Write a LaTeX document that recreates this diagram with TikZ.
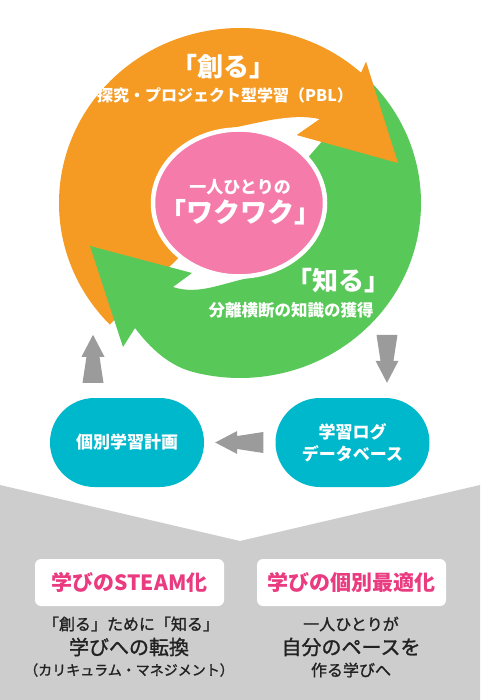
\documentclass[tikz,border=0pt]{standalone}
\usepackage{fontspec}
\setmainfont{Noto Sans CJK JP}
\newfontfamily\jpmed{Noto Sans CJK JP}[FakeBold=1.3]
\usetikzlibrary{calc,shapes.geometric}
\definecolor{corange}{HTML}{F59B23}
\definecolor{cgreen}{HTML}{58C858}
\definecolor{cpink}{HTML}{F57BAA}
\definecolor{cteal}{HTML}{00B8CC}
\definecolor{carrow}{HTML}{9B9B9B}
\definecolor{cbg}{HTML}{CDCDCD}
\definecolor{cmag}{HTML}{EA3A80}
\definecolor{cdark}{HTML}{222222}
\newcommand\fs[1]{\fontsize{#1}{#1}\selectfont\bfseries}
\newcommand\fm[1]{\fontsize{#1}{#1}\selectfont\jpmed}
\newcommand\garrow[2]{%
  \coordinate (neck) at ($(#2)!22pt!(#1)$);
  \fill[carrow] ($(#1)!10.5pt!90:(#2)$) -- ($(neck)!6.5pt!90:(#2)$) -- ($(neck)!11.5pt!90:(#2)$)
    -- (#2) -- ($(neck)!11.5pt!-90:(#2)$) -- ($(neck)!6.5pt!-90:(#2)$) -- ($(#1)!10.5pt!-90:(#2)$) -- cycle;}
\begin{document}
\begin{tikzpicture}[x=1pt,y=1pt,
  orangeshape/.style={insert path={
    (224:181 and 175) arc[start angle=224, end angle=48, x radius=181, y radius=175]
    -- (126,141) -- (158,40) -- (57,68) -- (80,84)
    .. controls (50,91) and (15,78.5) .. (100:87 and 75)
    arc[start angle=100, end angle=226, x radius=87, y radius=75] -- cycle}},
  greenshape/.style={insert path={
    (43:181 and 175) arc[start angle=43, end angle=-105, x radius=181, y radius=175]
    .. controls (-71,-162.7) and (-90,-145) .. (-105,-125)
    -- (-117,-144) -- (-150,-43) -- (-48,-70) -- (-67,-84)
    .. controls (-40,-93) and (-14.5,-78.4) .. (280:87 and 75)
    arc[start angle=280, end angle=398, x radius=87, y radius=75] -- cycle}},
  wtext/.style={text=white, inner sep=0pt, anchor=center},
  dtext/.style={text=cdark, inner sep=0pt, anchor=center},
  tealbox/.style={fill=cteal, text=white, minimum width=154, minimum height=89,
    rounded corners=44.5, inner sep=0pt, align=center,
    font=\fontsize{17}{22}\selectfont\bfseries},
  whitebox/.style={fill=white, text=cmag, minimum width=189, minimum height=47,
    rounded corners=6, inner sep=0pt}]
\useasboundingbox (0,0) rectangle (480,-700);
\fill[cbg] (0,-485) -- (240,-541) -- (480,-485) -- (480,-700) -- (0,-700) -- cycle;
\begin{scope}[shift={(240,-203)}]
  \fill[corange, orangeshape];
  \fill[cgreen, greenshape];
  \begin{scope}
    \clip (40,0) rectangle (200,200);
    \fill[corange, orangeshape];
  \end{scope}
\end{scope}
\node[ellipse, fill=cpink, draw=white, line width=4.5, minimum width=172, minimum height=147, inner sep=0pt] (core) at (239,-203) {};
\node[wtext] (tsukuru) at (223,-67) {\fs{26}「創る」};
\node[wtext] (pbl) at (225,-95) {\fs{16}探究・プロジェクト型学習（PBL）};
\node[wtext] (hitori) at (240,-187) {\fs{17}一人ひとりの};
\node[wtext] (waku) at (240,-212) {\fs{27}「ワクワク」};
\node[wtext] (shiru) at (338,-281) {\fs{26}「知る」};
\node[wtext] (bunri) at (291,-310) {\fs{16.5}分離横断の知識の獲得};
\node[tealbox] (plan) at (127,-442.5) {個別学習計画};
\node[tealbox] (logdb) at (352.5,-442.5) {学習ログ\\データベース};
\coordinate (upT) at ($(plan.north)+(-34,15)$);
\coordinate (upH) at ($(plan.north)+(-34,63)$);
\coordinate (dnT) at ($(logdb.north)+(34.5,63)$);
\coordinate (dnH) at ($(logdb.north)+(34.5,15)$);
\coordinate (lfT) at ($(logdb.west)+(-12,0)$);
\coordinate (lfH) at ($(plan.east)+(11,0)$);
\garrow{upT}{upH}
\garrow{dnT}{dnH}
\garrow{lfT}{lfH}
\node[whitebox] (steam) at (129.5,-582.5) {\fs{21}学びのSTEAM化};
\node[whitebox] (kobetsu) at (351.5,-582.5) {\fs{21}学びの個別最適化};
\node[dtext] (l1) at (131,-624) {\fm{16}「創る」ために「知る」};
\node[dtext] (l2) at (129,-647) {\fm{20}学びへの転換};
\node[dtext] (l3) at (129,-670) {\fm{14}（カリキュラム・マネジメント）};
\node[dtext] (r1) at (351,-624) {\fm{16}一人ひとりが};
\node[dtext] (r2) at (351,-647) {\fm{20}自分のペースを};
\node[dtext] (r3) at (351,-670) {\fm{16}作る学びへ};
\end{tikzpicture}
\end{document}
